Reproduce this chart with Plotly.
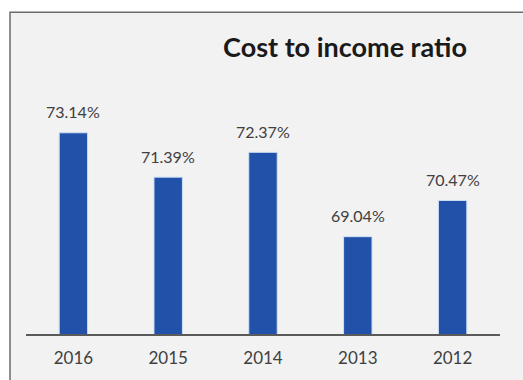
import plotly.graph_objects as go

years = ["2016", "2015", "2014", "2013", "2012"]
ratios = [73.14, 71.39, 72.37, 69.04, 70.47]
labels = ["73.14%", "71.39%", "72.37%", "69.04%", "70.47%"]
title_text = "Cost to income ratio"

W, H = 523, 380
ml, mr, mt, mb = 26, 23, 40, 43
ph = H - mt - mb
pw = W - ml - mr
ymin = 65.2
yscale = 25.6  # px per percentage point
ymax = ymin + ph / yscale

fig = go.Figure()
fig.add_trace(go.Bar(
    x=years, y=ratios,
    marker=dict(color="#2151A8", line=dict(color="#cfe0f7", width=1)),
    width=0.3, hoverinfo="skip",
))

for i, (v, lb) in enumerate(zip(ratios, labels)):
    fig.add_annotation(x=i, y=v, text=lb, showarrow=False, yanchor="middle",
                       yshift=21, font=dict(family="Lato, Open Sans, sans-serif", size=16, color="#404040"))

def px_to_paper_x(px):
    return (px - ml) / pw

def px_to_paper_y(py):
    return (H - mb - py) / ph

fig.add_shape(type="rect", xref="paper", yref="paper",
              x0=px_to_paper_x(10), x1=px_to_paper_x(530),
              y0=px_to_paper_y(390), y1=px_to_paper_y(12),
              fillcolor="#f2f2f2", line=dict(color="#6b6b6b", width=1.5), layer="below")

fig.update_layout(
    width=W, height=H,
    margin=dict(l=ml, r=mr, t=mt, b=mb),
    paper_bgcolor="white", plot_bgcolor="rgba(0,0,0,0)",
    showlegend=False,
    title=dict(text="<b>" + title_text + "</b>", xref="paper", x=px_to_paper_x(345), xanchor="center",
               yref="container", y=1 - 48 / H, yanchor="middle",
               font=dict(family="Lato, Open Sans, sans-serif", size=27, color="#1a1a1a")),
    xaxis=dict(type="category", range=[-0.5, len(years) - 0.5], showline=True, linecolor="#5a5a5a",
               linewidth=2, showgrid=False, zeroline=False,
               ticks="outside", ticklen=8, tickcolor="rgba(0,0,0,0)",
               tickfont=dict(family="Lato, Open Sans, sans-serif", size=17, color="#404040")),
    yaxis=dict(range=[ymin, ymax], visible=False, showgrid=False, zeroline=False),
)

fig.write_html("out.html")
